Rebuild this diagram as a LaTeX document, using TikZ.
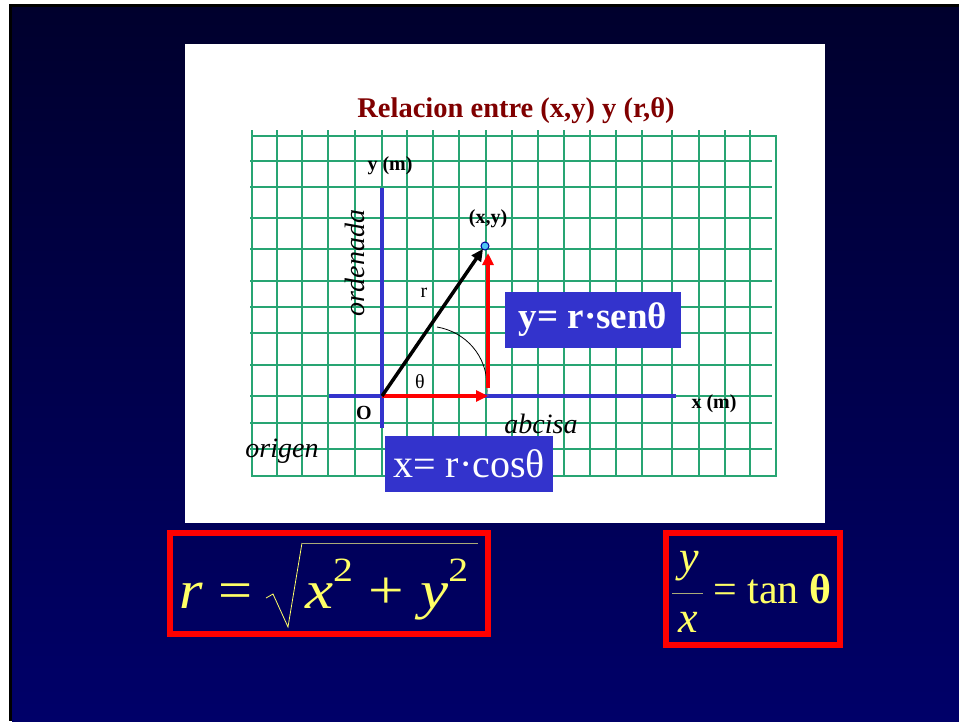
\documentclass[tikz,border=0pt]{standalone}
\usepackage{fontspec}
\setmainfont{Liberation Serif}
\usetikzlibrary{arrows.meta}
\definecolor{gridgreen}{RGB}{40,165,115}
\definecolor{axisblue}{RGB}{51,51,204}
\definecolor{titlered}{RGB}{128,0,0}
\definecolor{formyellow}{RGB}{255,255,102}
\definecolor{formgray}{RGB}{170,170,120}
\definecolor{slidetop}{RGB}{0,0,45}
\definecolor{slidebot}{RGB}{0,0,105}
\begin{document}
\begin{tikzpicture}[x=1pt,y=-1pt,
  lbl/.style={font=\fontsize{20}{24}\selectfont, inner sep=0pt, anchor=base},
  blbl/.style={lbl, font=\fontsize{20}{24}\selectfont\bfseries},
  ital/.style={font=\fontsize{28}{32}\selectfont\itshape, inner sep=0pt, anchor=base},
  gridline/.style={gridgreen, line width=1.2pt},
  axis/.style={axisblue, line width=3.5pt},
  vec/.style={line width=3.5pt, -{Triangle[length=12pt,width=11pt]}},
  bluebox/.style={fill=axisblue, text=white, inner sep=0pt, minimum height=56pt},
  redbox/.style={draw=red, line width=6pt, inner sep=0pt},
  formula/.style={text=formyellow, inner sep=0pt, anchor=base west}]
\useasboundingbox (0,0) rectangle (959,721);
% slide background
\fill[white] (0,0) rectangle (959,721);
\fill[black] (9,4) rectangle (959,721);
\shade[top color=slidetop, bottom color=slidebot] (12,7) rectangle (959,721);
\fill[white] (185,44) rectangle (825,523);
% grid
\foreach \gx in {252,277,302,328,355,382,407,433,459,486,512,538,564,590,616,642,672,699,725,750}
  \draw[gridline] (\gx,130) -- (\gx,475);
\foreach \gy in {161,187,218,249,281,307,333,365,396,423,449}
  \draw[gridline] (250,\gy) -- (772,\gy);
\draw[gridline] (252,136) rectangle (776,476);
\node[font=\fontsize{28.5}{32}\selectfont\bfseries, text=titlered, anchor=base] (title) at (516,117) {Relacion entre (x,y) y (r,θ)};
% axes
\coordinate (O) at (382,396);
\coordinate (xl) at (329,396);
\coordinate (xr) at (676,396);
\coordinate (yt) at (382,188);
\coordinate (yb) at (382,428);
\draw[axis] (xl) -- (xr);
\draw[axis] (yt) -- (yb);
\coordinate (Px) at (488,396);
\coordinate (Py0) at (488,388);
\coordinate (Py) at (488,253);
\coordinate (a1) at (437,327);
\coordinate (a2) at (487,386);
\draw[line width=0.8pt] (a1) .. controls (466,332) and (487,356) .. (a2);
\draw[gray, line width=0.6pt] (a2) -- (Px);
\draw[vec, red] (O) -- (Px);
\draw[vec, red] (Py0) -- (Py);
\node[circle, fill=cyan!70, draw=blue!60!black, line width=1pt, inner sep=0pt, minimum size=8pt] (pt) at (485,246) {};
\draw[vec, shorten >=-1pt] (O) -- (pt);
% labels
\node[blbl] (ylab) at (390,170) {y (m)};
\node[blbl] (xlab) at (714,408) {x (m)};
\node[blbl] (ptlab) at (488,223) {(x,y)};
\node[blbl] (olab) at (364,419) {O};
\node[lbl] (rlab) at (424,297) {r};
\node[lbl] (thlab) at (420,388) {θ};
\node[ital, rotate=90] (ord) at (364,263) {ordenada};
\node[ital] (abc) at (541,433) {abcisa};
\node[ital] (orig) at (282,457) {origen};
\node[bluebox, minimum width=176pt, font=\fontsize{37}{42}\selectfont\bfseries] (ybox) at (593,320) {y= r·senθ};
\node[bluebox, minimum width=168pt, font=\fontsize{40}{44}\selectfont] (xbox) at (469,464) {x= r·cosθ};
% formulas
\node[redbox, minimum width=318pt, minimum height=101pt] (rbox) at (329,583.5) {};
\node[redbox, minimum width=174pt, minimum height=112pt] (tbox) at (753,589) {};
\node[formula, font=\fontsize{54}{58}\selectfont] (req) at (179,608) {\scalebox{1.12}[1]{\textit{r} =}};
\node[formula, font=\fontsize{54}{58}\selectfont] (rad) at (305,608) {\scalebox{1.17}[1]{\textit{x}\raisebox{0.5em}{\fontsize{34}{36}\selectfont 2} + \textit{y}\raisebox{0.5em}{\fontsize{34}{36}\selectfont 2}}};
\draw[formyellow, line width=0.8pt] (266,598) -- (273,594) -- (288,627) -- (302,543);
\draw[formgray, line width=1pt] (302,543) -- (478,543);
\node[formula, anchor=center, font=\fontsize{44}{48}\selectfont\itshape] (fy) at (689,566) {y};
\node[formula, anchor=center, font=\fontsize{44}{48}\selectfont\itshape] (fx) at (688,622) {x};
\draw[formgray, line width=1pt] (672,593) -- (703,593);
\node[formula, font=\fontsize{42}{46}\selectfont] (tan) at (713,603) {= tan \textbf{θ}};
\end{tikzpicture}
\end{document}
